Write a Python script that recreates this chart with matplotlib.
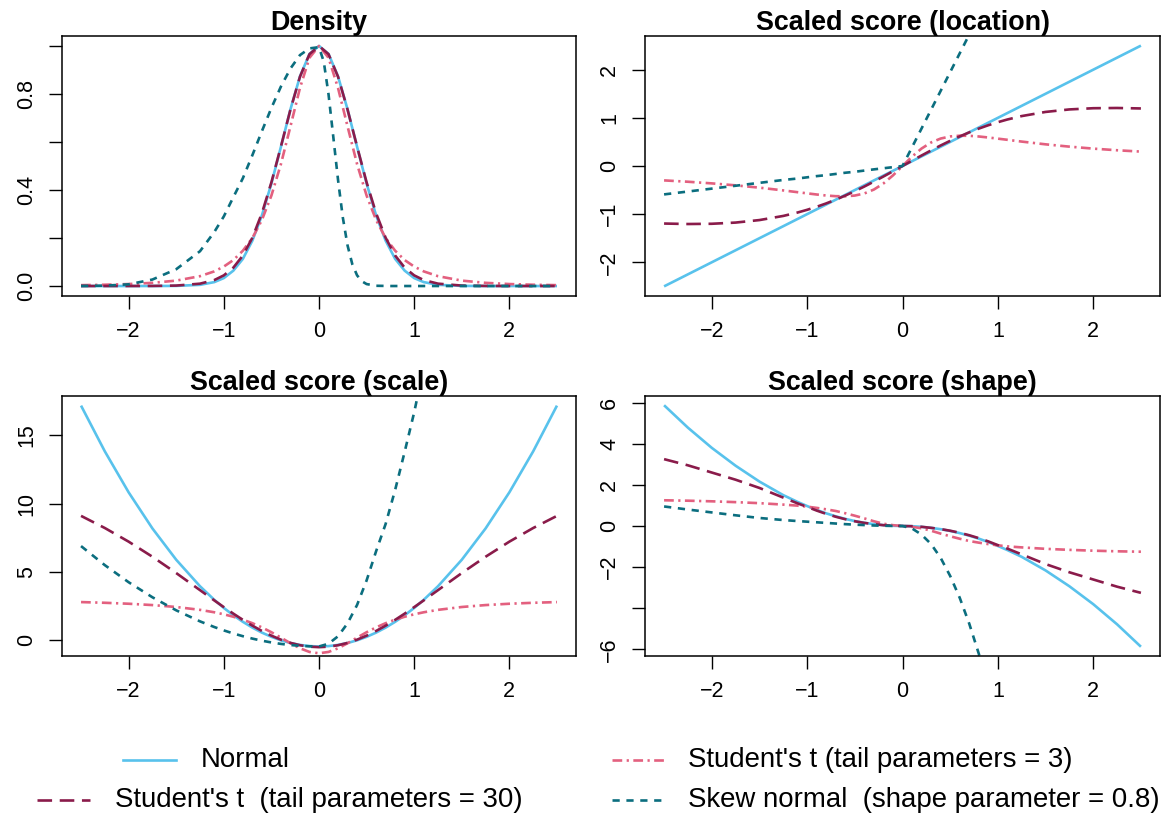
import matplotlib
matplotlib.use("Agg")
import matplotlib.pyplot as plt
from matplotlib.lines import Line2D

plt.rcParams['font.family'] = ['Liberation Sans', 'DejaVu Sans']
plt.rcParams['lines.scale_dashes'] = False
plt.rcParams['axes.unicode_minus'] = True

# ---------------------------------------------------------------- data
x = [-2.5, -2.25, -2.0, -1.75, -1.5, -1.25, -1.1, -1.0, -0.9, -0.8, -0.7, -0.6,
     -0.5, -0.4, -0.3, -0.2, -0.1, 0.0, 0.1, 0.2, 0.3, 0.4, 0.5, 0.6, 0.7, 0.8,
     0.9, 1.0, 1.1, 1.25, 1.5, 1.75, 2.0, 2.25, 2.5]

# finer grid for the skew normal density (sharp right flank)
x_sn = [-2.5, -2.25, -2.0, -1.75, -1.5, -1.25, -1.1, -1.0, -0.9, -0.8, -0.7,
        -0.6, -0.5, -0.4, -0.3, -0.2, -0.1, 0.0, 0.05, 0.1, 0.15, 0.2, 0.25,
        0.3, 0.35, 0.4, 0.45, 0.5, 0.6, 0.75, 1.0, 1.25, 1.5, 1.75, 2.0, 2.25,
        2.5]

# Density (scaled to a maximum of 1)
dens_normal = [0.0, 0.0, 0.0, 0.0, 0.0005, 0.0049, 0.0163, 0.033, 0.064, 0.113,
               0.189, 0.294, 0.427, 0.580, 0.736, 0.873, 0.967, 1.0, 0.967,
               0.873, 0.736, 0.580, 0.427, 0.294, 0.189, 0.113, 0.064, 0.033,
               0.0163, 0.0049, 0.0005, 0.0, 0.0, 0.0, 0.0]
dens_t30 = [0.0, 0.0, 0.0, 0.0003, 0.0018, 0.0098, 0.0248, 0.0443, 0.0765,
            0.127, 0.201, 0.303, 0.432, 0.581, 0.735, 0.872, 0.966, 1.0, 0.966,
            0.872, 0.735, 0.581, 0.432, 0.303, 0.201, 0.127, 0.0765, 0.0443,
            0.0248, 0.0098, 0.0018, 0.0003, 0.0, 0.0, 0.0]
dens_t3 = [0.0036, 0.0053, 0.0082, 0.0132, 0.0225, 0.041, 0.061, 0.081, 0.108,
           0.147, 0.200, 0.275, 0.377, 0.508, 0.665, 0.825, 0.951, 1.0, 0.951,
           0.825, 0.665, 0.508, 0.377, 0.275, 0.200, 0.147, 0.108, 0.081,
           0.061, 0.041, 0.0225, 0.0132, 0.0082, 0.0053, 0.0036]
dens_sn = [0.0003, 0.0015, 0.007, 0.027, 0.07, 0.145, 0.225, 0.29, 0.37, 0.449,
           0.545, 0.645, 0.742, 0.831, 0.906, 0.962, 0.99, 0.995, 0.935, 0.799,
           0.622, 0.442, 0.286, 0.169, 0.0907, 0.0445, 0.0199, 0.0081, 0.001,
           0.0, 0.0, 0.0, 0.0, 0.0, 0.0, 0.0, 0.0]

# Scaled score, location
loc_normal = [-2.5, -2.25, -2.0, -1.75, -1.5, -1.25, -1.1, -1.0, -0.9, -0.8,
              -0.7, -0.6, -0.5, -0.4, -0.3, -0.2, -0.1, 0.0, 0.1, 0.2, 0.3,
              0.4, 0.5, 0.6, 0.7, 0.8, 0.9, 1.0, 1.1, 1.25, 1.5, 1.75, 2.0,
              2.25, 2.5]
loc_t30 = [-1.195, -1.205, -1.200, -1.175, -1.123, -1.037, -0.966, -0.910,
           -0.847, -0.777, -0.699, -0.614, -0.523, -0.426, -0.324, -0.218,
           -0.110, 0.0, 0.110, 0.218, 0.324, 0.426, 0.523, 0.614, 0.699, 0.777,
           0.847, 0.910, 0.966, 1.037, 1.123, 1.175, 1.200, 1.205, 1.195]
loc_t3 = [-0.299, -0.327, -0.361, -0.402, -0.450, -0.507, -0.544, -0.568,
          -0.592, -0.613, -0.627, -0.629, -0.614, -0.570, -0.489, -0.363,
          -0.195, 0.0, 0.195, 0.363, 0.489, 0.570, 0.614, 0.629, 0.627, 0.613,
          0.592, 0.568, 0.544, 0.507, 0.450, 0.402, 0.361, 0.327, 0.299]
loc_sn = [-0.59, -0.53, -0.47, -0.41, -0.35, -0.29, -0.26, -0.235, -0.21,
          -0.19, -0.165, -0.14, -0.12, -0.095, -0.07, -0.047, -0.024, 0.0,
          0.39, 0.78, 1.17, 1.56, 1.95, 2.34, 2.73, 3.12, 3.51, 3.9, 4.29,
          4.875, 5.85, 6.825, 7.8, 8.775, 9.75]

# Scaled score, scale
scl_normal = [17.194, 13.832, 10.824, 8.170, 5.870, 3.923, 2.926, 2.331,
              1.793, 1.312, 0.887, 0.519, 0.208, -0.047, -0.245, -0.387,
              -0.472, -0.5, -0.472, -0.387, -0.245, -0.047, 0.208, 0.519,
              0.887, 1.312, 1.793, 2.331, 2.926, 3.923, 5.870, 8.170, 10.824,
              13.832, 17.194]
scl_t30 = [9.094, 8.202, 7.200, 6.091, 4.892, 3.637, 2.883, 2.390, 1.912,
           1.456, 1.029, 0.640, 0.294, 0.0, -0.236, -0.409, -0.515, -0.55,
           -0.515, -0.409, -0.236, 0.0, 0.294, 0.640, 1.029, 1.456, 1.912,
           2.390, 2.883, 3.637, 4.892, 6.091, 7.200, 8.202, 9.094]
scl_t3 = [2.761, 2.709, 2.639, 2.541, 2.400, 2.190, 2.012, 1.863, 1.684, 1.469,
          1.210, 0.902, 0.546, 0.149, -0.261, -0.634, -0.902, -1.0, -0.902,
          -0.634, -0.261, 0.149, 0.546, 0.902, 1.210, 1.469, 1.684, 1.863,
          2.012, 2.190, 2.400, 2.541, 2.639, 2.709, 2.761]
scl_sn = [6.875, 5.474, 4.22, 3.114, 2.155, 1.344, 0.928, 0.68, 0.456, 0.255,
          0.078, -0.075, -0.205, -0.311, -0.394, -0.453, -0.488, -0.5, -0.3,
          0.25, 1.2, 2.55, 4.35, 6.5, 8.5, 11.0, 13.8, 16.7, 20.0, 25.5, 36.0,
          48.0, 62.0, 78.0, 96.0]

# Scaled score, shape
shp_normal = [5.87, 4.78, 3.8, 2.93, 2.16, 1.5, 1.17, 0.97, 0.78, 0.615, 0.47,
              0.345, 0.24, 0.155, 0.09, 0.04, 0.01, 0.0, -0.01, -0.04, -0.09,
              -0.155, -0.24, -0.345, -0.47, -0.615, -0.78, -0.97, -1.17, -1.5,
              -2.16, -2.93, -3.8, -4.78, -5.87]
shp_t30 = [3.25, 2.95, 2.6, 2.25, 1.85, 1.38, 1.1, 0.93, 0.75, 0.59, 0.45,
           0.33, 0.23, 0.15, 0.09, 0.04, 0.01, 0.0, -0.01, -0.04, -0.09, -0.15,
           -0.23, -0.33, -0.45, -0.59, -0.75, -0.93, -1.1, -1.38, -1.85, -2.25,
           -2.6, -2.95, -3.25]
shp_t3 = [1.25, 1.23, 1.2, 1.16, 1.11, 1.04, 0.99, 0.94, 0.88, 0.81, 0.73,
          0.62, 0.5, 0.37, 0.23, 0.11, 0.04, 0.0, -0.04, -0.11, -0.23, -0.37,
          -0.5, -0.62, -0.73, -0.81, -0.88, -0.94, -0.99, -1.04, -1.11, -1.16,
          -1.2, -1.23, -1.25]
shp_sn = [0.95, 0.8, 0.66, 0.52, 0.39, 0.29, 0.24, 0.21, 0.18, 0.15, 0.12,
          0.09, 0.065, 0.045, 0.025, 0.012, 0.003, 0.0, -0.12, -0.42, -0.88,
          -1.55, -2.43, -3.49, -4.75, -6.21, -7.86, -9.7, -11.7, -15.2, -21.8,
          -29.7, -38.8, -49.1, -60.6]

x_ticks = [-2, -1, 0, 1, 2]
x_ticklabels = ['\u22122', '\u22121', '0', '1', '2']

labels = ['Normal', "Student's t (tail parameters = 3)",
          "Student's t  (tail parameters = 30)",
          'Skew normal  (shape parameter = 0.8)']

# ---------------------------------------------------------------- styles
col_normal = '#58C2EC'
col_t30 = '#8A1B4A'
col_t3 = '#E3607F'
col_sn = '#0B6E7F'
LW = 1.9
sty = {
    'normal': dict(color=col_normal, lw=LW, linestyle='-'),
    't30': dict(color=col_t30, lw=LW, linestyle=(0, (10.5, 5.5))),
    't3': dict(color=col_t3, lw=LW, linestyle=(0, (7.0, 3.2, 1.6, 3.2))),
    'sn': dict(color=col_sn, lw=LW, linestyle=(0, (5.2, 4.8))),
}

W, H = 1164, 818
fig = plt.figure(figsize=(W / 100, H / 100), dpi=100)


def add_panel(left, top, right, bottom):
    return fig.add_axes([left / W, 1 - bottom / H, (right - left) / W,
                         (bottom - top) / H])


TICK_FS = 15.5
TITLE_FS = 19.4


def style_axes(ax, title, ylim, yticks, yticklabels):
    ax.set_xlim(-2.7, 2.7)
    ax.set_ylim(*ylim)
    ax.set_xticks(x_ticks)
    ax.set_xticklabels(x_ticklabels)
    ax.set_yticks(yticks)
    ax.set_yticklabels(yticklabels, rotation=90, va='center')
    ax.tick_params(direction='out', length=9.3, width=1.0, labelsize=TICK_FS,
                   pad=8.5, colors='black')
    for s in ax.spines.values():
        s.set_linewidth(1.1)
        s.set_color('black')
    ax.set_title(title, fontsize=TITLE_FS, fontweight='bold', pad=2.0)


def draw(ax, xs, series):
    for key, xv, yv in series:
        ax.plot(xv, yv, **sty[key], solid_capstyle='butt',
                dash_capstyle='butt')


ax1 = add_panel(62, 36, 576, 296)
draw(ax1, x, [('normal', x, dens_normal), ('t3', x, dens_t3),
              ('t30', x, dens_t30), ('sn', x_sn, dens_sn)])
style_axes(ax1, 'Density', (-0.0416, 1.0416),
           [0.0, 0.2, 0.4, 0.6, 0.8, 1.0], ['0.0', '', '0.4', '', '0.8', ''])

ax2 = add_panel(645, 36, 1160, 296)
draw(ax2, x, [('normal', x, loc_normal), ('t3', x, loc_t3),
              ('t30', x, loc_t30), ('sn', x, loc_sn)])
style_axes(ax2, 'Scaled score (location)', (-2.7, 2.7),
           [-2, -1, 0, 1, 2], ['\u22122', '\u22121', '0', '1', '2'])

ax3 = add_panel(62, 396, 576, 656)
draw(ax3, x, [('normal', x, scl_normal), ('t3', x, scl_t3),
              ('t30', x, scl_t30), ('sn', x, scl_sn)])
style_axes(ax3, 'Scaled score (scale)', (-1.2, 17.9),
           [0, 5, 10, 15], ['0', '5', '10', '15'])

ax4 = add_panel(645, 396, 1160, 656)
draw(ax4, x, [('normal', x, shp_normal), ('t3', x, shp_t3),
              ('t30', x, shp_t30), ('sn', x, shp_sn)])
style_axes(ax4, 'Scaled score (shape)', (-6.32, 6.32),
           [-6, -4, -2, 0, 2, 4, 6],
           ['\u22126', '', '\u22122', '0', '2', '4', '6'])

# ---------------------------------------------------------------- legend
LEG_FS = 19.9
legend_rows = [
    ('normal', labels[0], 123, 176, 201, 760),
    ('t3', labels[1], 612, 665, 688, 760),
    ('t30', labels[2], 37, 90, 115, 800),
    ('sn', labels[3], 612, 665, 688, 800),
]
for key, text, x0, x1, xt, yp in legend_rows:
    fy = 1 - yp / H
    fig.add_artist(Line2D([x0 / W, x1 / W], [fy, fy], transform=fig.transFigure,
                          **sty[key]))
    fig.text(xt / W, fy, text, fontsize=LEG_FS, ha='left', va='center')

fig.savefig('out.png', dpi=100)
